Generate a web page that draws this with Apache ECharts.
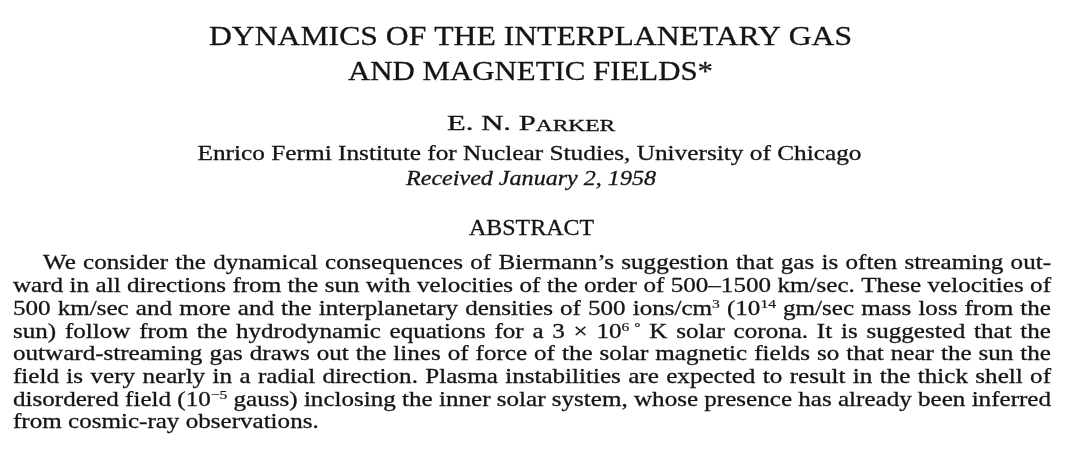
<!DOCTYPE html>
<html><head>
<meta charset="UTF-8">
<title>Parker 1958</title>
<script src="https://cdn.jsdelivr.net/npm/echarts@6/dist/echarts.min.js"></script>
<style>
html, body { margin: 0; padding: 0; background: #fff; }
#page { width: 1080px; height: 450px; }
</style>
</head>
<body>
<div id="page"></div>
<script>
// text of the page, ^{..} marks a superscript
var titleLines = ['DYNAMICS OF THE INTERPLANETARY GAS', 'AND MAGNETIC FIELDS*'];
var authorLine = 'E. N. Parker';
var affiliationLine = 'Enrico Fermi Institute for Nuclear Studies, University of Chicago';
var receivedLine = 'Received January 2, 1958';
var headingLine = 'ABSTRACT';
var abstractLines = [
    'We consider the dynamical consequences of Biermann\u2019s suggestion that gas is often streaming out-',
    'ward in all directions from the sun with velocities of the order of 500\u20131500 km/sec. These velocities of',
    '500 km/sec and more and the interplanetary densities of 500 ions/cm^{3} (10^{14} gm/sec mass loss from the',
    'sun) follow from the hydrodynamic equations for a 3 \u00d7 10^{6}\u2009^{\u00b0} K solar corona. It is suggested that the',
    'outward-streaming gas draws out the lines of force of the solar magnetic fields so that near the sun the',
    'field is very nearly in a radial direction. Plasma instabilities are expected to result in the thick shell of',
    'disordered field (10^{\u22125} gauss) inclosing the inner solar system, whose presence has already been inferred',
    'from cosmic-ray observations.'
];

var FAMILY = '"Liberation Serif", "DejaVu Serif", serif';
var INK = '#141414';
var ctx = document.createElement('canvas').getContext('2d');
var els = [];

function fontOf(fs, style) {
    return (style ? style + ' ' : '') + fs + 'px ' + FAMILY;
}
function measure(t, fs, style) {
    ctx.font = fontOf(fs, style);
    return ctx.measureText(t).width;
}
// one run of text, placed on its alphabetic baseline
function addSeg(x, baseline, t, fs, style, sx) {
    els.push({
        type: 'text', x: x, y: baseline - 0.3375 * fs, scaleX: sx, silent: true,
        style: {
            text: t, font: fontOf(fs, style), fill: INK,
            stroke: INK, lineWidth: fs > 14 ? 0.3 : 0.2,
            align: 'left', verticalAlign: 'middle'
        }
    });
}
function segWidth(s) { return measure(s.t, s.fs, s.style); }

// centred line squeezed or stretched to the printed width
function drawFitted(segs, cx, targetW, baseline) {
    var nat = 0;
    segs.forEach(function (s) { nat += segWidth(s); });
    var sx = targetW / nat;
    var x = cx - targetW / 2;
    segs.forEach(function (s) {
        addSeg(x, baseline - (s.raise || 0), s.t, s.fs, s.style, sx);
        x += segWidth(s) * sx;
    });
}
function smallCaps(str, fs, ratio) {
    var segs = [], cur = null;
    for (var i = 0; i < str.length; i++) {
        var c = str[i], low = c !== c.toUpperCase();
        var size = low ? fs * ratio : fs;
        if (!cur || cur.fs !== size) { cur = { t: '', fs: size }; segs.push(cur); }
        cur.t += low ? c.toUpperCase() : c;
    }
    return segs;
}
function wordSegs(word, fs, supFs, raise) {
    var segs = [], re = /\^\{([^}]*)\}/g, last = 0, m;
    while ((m = re.exec(word)) !== null) {
        if (m.index > last) segs.push({ t: word.slice(last, m.index), fs: fs });
        segs.push({ t: m[1], fs: supFs, raise: raise });
        last = re.lastIndex;
    }
    if (last < word.length) segs.push({ t: word.slice(last), fs: fs });
    return segs;
}

// header block
var CX = 530.5;
drawFitted([{ t: titleLines[0], fs: 28 }], CX, 643, 47);
drawFitted([{ t: titleLines[1], fs: 28 }], CX, 365, 82);
drawFitted(smallCaps(authorLine, 21, 0.76), CX + 0.5, 168, 132);
drawFitted([{ t: affiliationLine, fs: 21 }], CX - 1, 664, 162);
drawFitted([{ t: receivedLine, fs: 21, style: 'italic' }], CX + 0.5, 250, 187);
drawFitted([{ t: headingLine, fs: 22.5 }], CX + 1, 125, 237);

// justified abstract
var BODY_FS = 21, SUP_FS = 13, SUP_RAISE = 7.5;
var LEFT = 13, RIGHT = 1051, INDENT = 30, TOP = 271, LEAD = 22.7;
var spaceW = measure(' ', BODY_FS);
var lines = abstractLines.map(function (line, i) {
    var words = line.split(' ').map(function (w) {
        var segs = wordSegs(w, BODY_FS, SUP_FS, SUP_RAISE);
        var wd = 0;
        segs.forEach(function (s) { wd += segWidth(s); });
        return { segs: segs, w: wd };
    });
    var nat = 0;
    words.forEach(function (w) { nat += w.w; });
    return { words: words, nat: nat, indent: i === 0 ? INDENT : 0 };
});
var bodySx = Infinity;
lines.forEach(function (ln, i) {
    if (i === lines.length - 1) return;
    var avail = RIGHT - LEFT - ln.indent;
    bodySx = Math.min(bodySx, avail / (ln.nat + (ln.words.length - 1) * spaceW));
});
lines.forEach(function (ln, i) {
    var avail = RIGHT - LEFT - ln.indent;
    var gaps = ln.words.length - 1;
    var gap = (i === lines.length - 1 || gaps === 0) ? spaceW * bodySx : (avail - ln.nat * bodySx) / gaps;
    var x = LEFT + ln.indent, base = TOP + i * LEAD;
    ln.words.forEach(function (w) {
        w.segs.forEach(function (s) {
            addSeg(x, base - (s.raise || 0), s.t, s.fs, null, bodySx);
            x += segWidth(s) * bodySx;
        });
        x += gap;
    });
});

var chart = echarts.init(document.getElementById('page'), null, { renderer: 'canvas' });
chart.setOption({
    backgroundColor: '#ffffff',
    animation: false,
    graphic: { elements: els }
});
</script>
</body></html>
